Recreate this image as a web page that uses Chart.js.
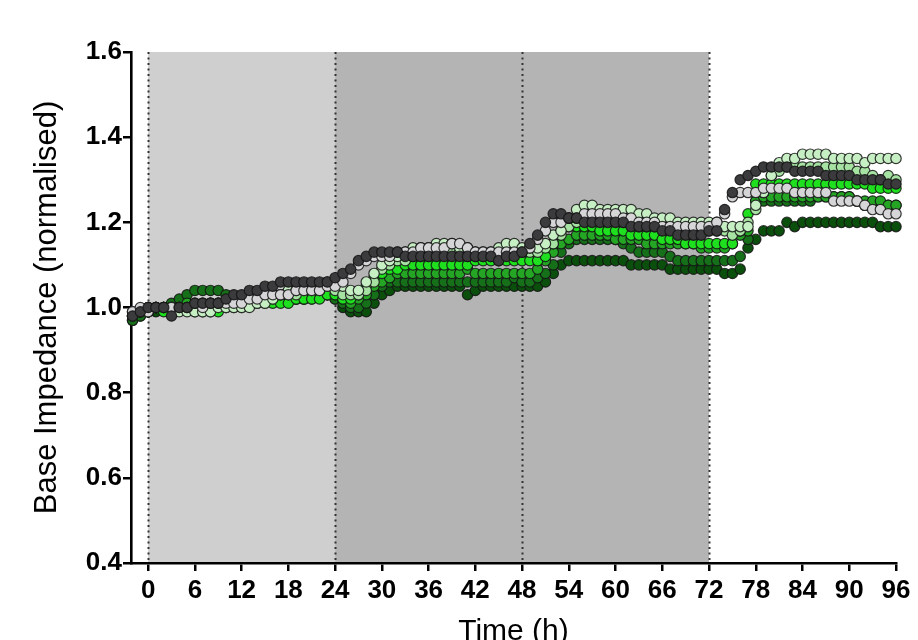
<!DOCTYPE html>
<html>
<head>
<meta charset="utf-8">
<script src="https://cdn.jsdelivr.net/npm/chart.js@4"></script>
<style>
  html, body { margin: 0; padding: 0; background: #fff; overflow: hidden; }
  #wrap { width: 918px; height: 660px; }
</style>
</head>
<body>
<div id="wrap"><canvas id="myChart"></canvas></div>
<script>
// Tempo (h) de cada leitura
const hours = [
  -2, -1, 0, 1, 2, 3, 4, 5, 6, 7,
  8, 9, 10, 11, 12, 13, 14, 15, 16, 17,
  18, 19, 20, 21, 22, 23, 24, 25, 26, 27,
  28, 29, 30, 31, 32, 33, 34, 35, 36, 37,
  38, 39, 40, 41, 42, 43, 44, 45, 46, 47,
  48, 49, 50, 51, 52, 53, 54, 55, 56, 57,
  58, 59, 60, 61, 62, 63, 64, 65, 66, 67,
  68, 69, 70, 71, 72, 73, 74, 75, 76, 77,
  78, 79, 80, 81, 82, 83, 84, 85, 86, 87,
  88, 89, 90, 91, 92, 93, 94, 95, 96
];

const xTicks = [0, 6, 12, 18, 24, 30, 36, 42, 48, 54, 60, 66, 72, 78, 84, 90, 96];
const yTicks = [0.4, 0.6, 0.8, 1.0, 1.2, 1.4, 1.6];

// fases sombreadas (h)
const phaseStart = [0, 24];
const phaseEnd = [24, 72];
const markerHours = [0, 24, 48, 72];

const darkGrey = [
  0.98, 0.99, 1.00, 1.00, 1.00, 0.98, 1.00, 1.00, 1.01, 1.01,
  1.01, 1.01, 1.02, 1.03, 1.03, 1.04, 1.04, 1.05, 1.05, 1.06,
  1.06, 1.06, 1.06, 1.06, 1.06, 1.06, 1.07, 1.08, 1.09, 1.11,
  1.12, 1.13, 1.13, 1.13, 1.13, 1.12, 1.12, 1.12, 1.12, 1.12,
  1.12, 1.12, 1.12, 1.12, 1.12, 1.12, 1.12, 1.11, 1.12, 1.12,
  1.13, 1.15, 1.17, 1.20, 1.22, 1.22, 1.21, 1.21, 1.20, 1.20,
  1.20, 1.20, 1.20, 1.20, 1.19, 1.19, 1.19, 1.19, 1.18, 1.18,
  1.17, 1.17, 1.17, 1.17, 1.18, 1.18, 1.23, 1.27, 1.30, 1.31,
  1.32, 1.33, 1.33, 1.33, 1.33, 1.32, 1.32, 1.32, 1.32, 1.31,
  1.31, 1.31, 1.31, 1.30, 1.30, 1.30, 1.30, 1.29, 1.29
];

const lightGrey = [
  0.99, 1.00, 0.99, 1.00, 1.00, 1.00, 1.00, 1.00, 1.01, 1.00,
  1.01, 1.01, 1.01, 1.01, 1.01, 1.02, 1.02, 1.03, 1.03, 1.03,
  1.03, 1.04, 1.04, 1.04, 1.04, 1.05, 1.05, 1.06, 1.08, 1.10,
  1.11, 1.12, 1.12, 1.12, 1.13, 1.13, 1.13, 1.14, 1.14, 1.14,
  1.14, 1.15, 1.15, 1.14, 1.13, 1.13, 1.13, 1.13, 1.13, 1.13,
  1.13, 1.14, 1.16, 1.18, 1.20, 1.20, 1.21, 1.21, 1.22, 1.22,
  1.22, 1.22, 1.22, 1.21, 1.21, 1.20, 1.20, 1.20, 1.19, 1.19,
  1.19, 1.19, 1.19, 1.19, 1.19, 1.20, 1.22, 1.26, 1.27, 1.27,
  1.27, 1.28, 1.28, 1.28, 1.28, 1.27, 1.27, 1.27, 1.27, 1.27,
  1.25, 1.25, 1.25, 1.25, 1.24, 1.23, 1.23, 1.22, 1.22
];

const paleGreen = [
  0.98, 0.99, 0.99, 1.00, 1.00, 1.00, 0.99, 0.99, 0.99, 0.99,
  0.99, 1.00, 1.00, 1.00, 1.00, 1.00, 1.01, 1.01, 1.02, 1.03,
  1.04, 1.04, 1.05, 1.05, 1.05, 1.06, 1.06, 1.05, 1.04, 1.04,
  1.06, 1.08, 1.10, 1.11, 1.12, 1.13, 1.14, 1.14, 1.14, 1.15,
  1.15, 1.15, 1.14, 1.14, 1.13, 1.13, 1.13, 1.14, 1.15, 1.15,
  1.14, 1.14, 1.14, 1.15, 1.17, 1.18, 1.21, 1.23, 1.24, 1.24,
  1.23, 1.23, 1.23, 1.23, 1.23, 1.22, 1.22, 1.21, 1.21, 1.21,
  1.20, 1.20, 1.20, 1.20, 1.20, 1.20, 1.19, 1.19, 1.19, 1.19,
  1.24, 1.27, 1.31, 1.34, 1.35, 1.35, 1.36, 1.36, 1.36, 1.36,
  1.35, 1.35, 1.35, 1.35, 1.34, 1.35, 1.35, 1.35, 1.35
];

const lightGreen = [
  0.99, 0.99, 1.00, 1.00, 1.00, 1.00, 1.00, 1.00, 1.00, 1.01,
  1.01, 1.01, 1.01, 1.01, 1.02, 1.02, 1.02, 1.02, 1.02, 1.03,
  1.03, 1.03, 1.04, 1.04, 1.04, 1.05, 1.04, 1.03, 1.03, 1.03,
  1.04, 1.06, 1.09, 1.10, 1.11, 1.11, 1.12, 1.12, 1.12, 1.13,
  1.13, 1.13, 1.13, 1.12, 1.12, 1.12, 1.12, 1.13, 1.14, 1.14,
  1.13, 1.13, 1.13, 1.14, 1.15, 1.17, 1.19, 1.20, 1.21, 1.21,
  1.21, 1.21, 1.21, 1.20, 1.20, 1.19, 1.19, 1.19, 1.19, 1.19,
  1.19, 1.19, 1.19, 1.19, 1.18, 1.18, 1.18, 1.17, 1.18, 1.20,
  1.23, 1.27, 1.31, 1.32, 1.33, 1.33, 1.33, 1.33, 1.33, 1.33,
  1.33, 1.33, 1.33, 1.32, 1.32, 1.31, 1.30, 1.31, 1.30
];

const brightGreen = [
  0.98, 0.99, 1.00, 1.00, 0.99, 1.00, 1.00, 1.00, 0.99, 0.99,
  0.99, 0.99, 1.00, 1.00, 1.00, 1.01, 1.01, 1.01, 1.01, 1.01,
  1.01, 1.02, 1.02, 1.02, 1.02, 1.03, 1.03, 1.02, 1.02, 1.03,
  1.05, 1.07, 1.08, 1.09, 1.09, 1.10, 1.10, 1.10, 1.10, 1.10,
  1.10, 1.10, 1.10, 1.10, 1.11, 1.11, 1.11, 1.11, 1.11, 1.11,
  1.11, 1.11, 1.11, 1.12, 1.15, 1.18, 1.19, 1.19, 1.19, 1.19,
  1.18, 1.18, 1.18, 1.18, 1.17, 1.17, 1.17, 1.17, 1.16, 1.16,
  1.16, 1.15, 1.15, 1.15, 1.15, 1.15, 1.15, 1.15, 1.18, 1.22,
  1.29, 1.29, 1.29, 1.29, 1.29, 1.29, 1.29, 1.29, 1.29, 1.29,
  1.29, 1.29, 1.29, 1.29, 1.29, 1.28, 1.28, 1.28, 1.28
];

const midGreen = [
  0.98, 0.99, 0.99, 1.00, 1.00, 1.00, 1.00, 1.01, 1.01, 1.00,
  1.00, 1.00, 1.00, 1.01, 1.01, 1.01, 1.01, 1.02, 1.02, 1.02,
  1.02, 1.02, 1.02, 1.03, 1.03, 1.03, 1.03, 1.02, 1.01, 1.02,
  1.03, 1.05, 1.06, 1.07, 1.08, 1.08, 1.08, 1.08, 1.08, 1.08,
  1.08, 1.08, 1.08, 1.09, 1.08, 1.08, 1.08, 1.08, 1.08, 1.08,
  1.08, 1.08, 1.09, 1.11, 1.13, 1.15, 1.16, 1.17, 1.17, 1.17,
  1.17, 1.17, 1.16, 1.16, 1.16, 1.16, 1.15, 1.15, 1.15, 1.15,
  1.15, 1.15, 1.15, 1.14, 1.14, 1.14, 1.14, 1.15, 1.17, 1.18,
  1.25, 1.26, 1.26, 1.26, 1.26, 1.26, 1.26, 1.26, 1.26, 1.26,
  1.26, 1.26, 1.26, 1.25, 1.25, 1.25, 1.25, 1.24, 1.24
];

const darkGreen = [
  0.97, 0.98, 0.99, 1.00, 1.00, 1.01, 1.02, 1.03, 1.04, 1.04,
  1.04, 1.04, 1.03, 1.02, 1.02, 1.02, 1.02, 1.02, 1.02, 1.02,
  1.02, 1.02, 1.02, 1.02, 1.03, 1.03, 1.02, 1.01, 1.00, 1.00,
  1.01, 1.03, 1.05, 1.06, 1.06, 1.06, 1.06, 1.06, 1.06, 1.06,
  1.06, 1.06, 1.06, 1.06, 1.06, 1.06, 1.06, 1.06, 1.06, 1.07,
  1.06, 1.06, 1.07, 1.08, 1.10, 1.13, 1.15, 1.16, 1.16, 1.16,
  1.16, 1.16, 1.16, 1.15, 1.14, 1.13, 1.13, 1.13, 1.13, 1.12,
  1.11, 1.11, 1.11, 1.11, 1.11, 1.11, 1.11, 1.11, 1.12, 1.16,
  1.25, 1.25, 1.25, 1.25, 1.25, 1.25, 1.25, 1.25, 1.26, 1.26,
  1.26, 1.26, 1.26, 1.25, 1.24, 1.24, 1.24, 1.24, 1.24
];

const deepGreen = [
  0.97, 0.98, 0.99, 0.99, 1.00, 1.00, 1.00, 1.00, 1.00, 1.01,
  1.01, 1.01, 1.01, 1.01, 1.01, 1.01, 1.02, 1.02, 1.02, 1.02,
  1.02, 1.02, 1.02, 1.03, 1.03, 1.03, 1.02, 1.00, 0.99, 0.99,
  0.99, 1.01, 1.03, 1.04, 1.05, 1.05, 1.05, 1.05, 1.05, 1.05,
  1.05, 1.05, 1.05, 1.03, 1.04, 1.05, 1.05, 1.05, 1.05, 1.05,
  1.05, 1.05, 1.05, 1.06, 1.08, 1.10, 1.11, 1.11, 1.11, 1.11,
  1.11, 1.11, 1.11, 1.11, 1.10, 1.10, 1.10, 1.10, 1.10, 1.09,
  1.09, 1.09, 1.09, 1.09, 1.09, 1.09, 1.08, 1.08, 1.09, 1.14,
  1.16, 1.18, 1.18, 1.18, 1.20, 1.19, 1.20, 1.20, 1.20, 1.20,
  1.20, 1.20, 1.20, 1.20, 1.20, 1.20, 1.19, 1.19, 1.19
];

// primeiro da lista fica por cima
const series = [
  { label: "A", values: darkGrey, color: "#3b3b3d" },
  { label: "B", values: lightGrey, color: "#d6d6d8" },
  { label: "C", values: paleGreen, color: "#c6efc4" },
  { label: "D", values: lightGreen, color: "#a6e2a2" },
  { label: "E", values: brightGreen, color: "#1ee01e" },
  { label: "F", values: midGreen, color: "#24a524" },
  { label: "G", values: darkGreen, color: "#16701a" },
  { label: "H", values: deepGreen, color: "#0b4f0d" },
];

// fundo cinza das fases + linhas pontilhadas
const phasesPlugin = {
  id: "phases",
  beforeDraw(chart) {
    const { ctx, chartArea, scales } = chart;
    const x = scales.x;
    const fills = ["#cfcfcf", "#b4b4b4"];
    ctx.save();
    for (let i = 0; i < phaseStart.length; i++) {
      const x0 = x.getPixelForValue(phaseStart[i]);
      const x1 = x.getPixelForValue(phaseEnd[i]);
      ctx.fillStyle = fills[i];
      ctx.fillRect(x0, chartArea.top, x1 - x0, chartArea.bottom - chartArea.top);
    }
    ctx.strokeStyle = "#333";
    ctx.lineWidth = 2;
    ctx.setLineDash([2, 3.5]);
    markerHours.forEach((h) => {
      const px = Math.round(x.getPixelForValue(h)) + 0.5;
      ctx.beginPath();
      ctx.moveTo(px, chartArea.top);
      ctx.lineTo(px, chartArea.bottom);
      ctx.stroke();
    });
    ctx.restore();
  },
};

Chart.defaults.font.family = "'Liberation Sans', Arial, sans-serif";
Chart.defaults.color = "#000";

function grafico() {
  const ctx = document.getElementById("myChart");
  new Chart(ctx, {
    type: "scatter",
    data: {
      datasets: series.map((s) => ({
        label: s.label,
        data: hours.map((h, i) => ({ x: h, y: s.values[i] })),
        backgroundColor: s.color,
        borderColor: "rgba(20,20,20,0.85)",
        borderWidth: 1.2,
        pointRadius: 5.2,
        pointHoverRadius: 5.2,
        clip: false,
      })),
    },
    options: {
      responsive: true,
      maintainAspectRatio: false,
      animation: false,
      layout: { padding: { left: 0, right: 22, top: 52, bottom: 0 } },
      plugins: {
        legend: { display: false },
        tooltip: { enabled: false },
      },
      scales: {
        x: {
          type: "linear",
          min: -2.2,
          max: 96,
          afterBuildTicks: (scale) => {
            scale.ticks = xTicks.map((v) => ({ value: v }));
          },
          afterFit: (scale) => {
            scale.height = 97;
          },
          ticks: {
            font: { size: 26, weight: "bold" },
            padding: 4,
            maxRotation: 0,
            autoSkip: false,
          },
          grid: {
            drawOnChartArea: false,
            drawTicks: true,
            tickLength: 8,
            color: "#000",
            lineWidth: 2.5,
          },
          border: { display: true, color: "#000", width: 2.6 },
          title: {
            display: true,
            text: "Time (h)",
            font: { size: 30 },
            padding: { top: 0, bottom: 10 },
          },
        },
        y: {
          min: 0.4,
          max: 1.6,
          afterBuildTicks: (scale) => {
            scale.ticks = yTicks.map((v) => ({ value: v }));
          },
          afterFit: (scale) => {
            scale.width = 131;
          },
          ticks: {
            font: { size: 26, weight: "bold" },
            padding: 1,
            callback: (v) => v.toFixed(1),
          },
          grid: {
            drawOnChartArea: false,
            drawTicks: true,
            tickLength: 8,
            color: "#000",
            lineWidth: 2.5,
          },
          border: { display: true, color: "#000", width: 2.6 },
          title: {
            display: true,
            text: "Base Impedance (normalised)",
            font: { size: 31 },
            padding: { top: 29, bottom: 0 },
          },
        },
      },
    },
    plugins: [phasesPlugin],
  });
}

grafico();
</script>
</body>
</html>
